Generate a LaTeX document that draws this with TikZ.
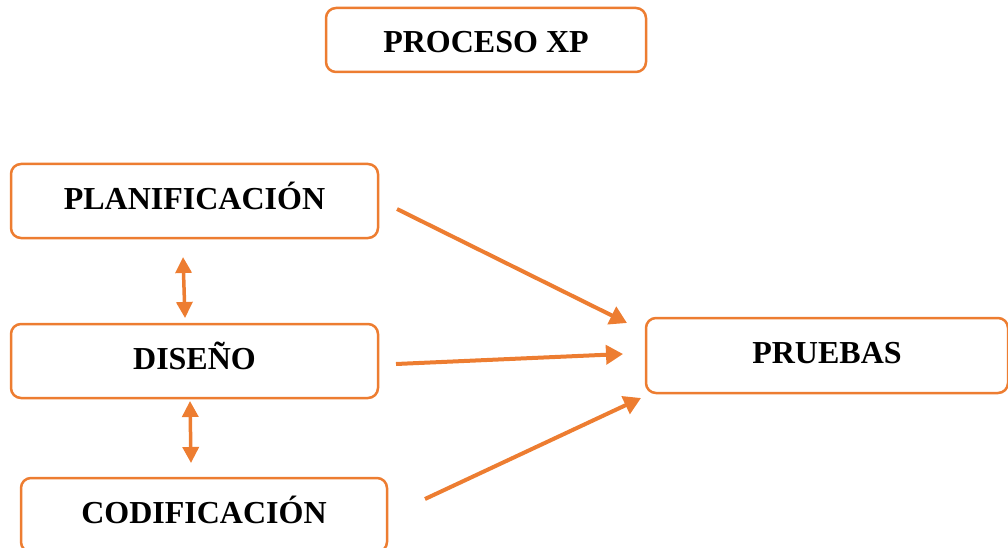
\documentclass[tikz,border=0pt]{standalone}
\usepackage{fontspec}
\setmainfont{Liberation Serif}
\usetikzlibrary{arrows.meta}
\definecolor{xporange}{HTML}{ED7D31}
\begin{document}
\begin{tikzpicture}[x=1pt,y=-1pt,
  box/.style={draw=xporange,line width=2.5pt,rounded corners=10pt,fill=white,
    inner sep=0pt,text height=16pt,text depth=0pt,
    font=\fontsize{32}{36}\selectfont\bfseries},
  link/.style={draw=xporange,line width=4pt,-{Triangle[length=17pt,width=19pt]}},
  both/.style={draw=xporange,line width=3.5pt,
    {Triangle[length=16pt,width=16pt]}-{Triangle[length=16pt,width=16pt]}}]
\useasboundingbox (0,0) rectangle (1008,548);
\clip (0,0) rectangle (1008,548);
\node[box,minimum width=320pt,minimum height=64pt,text height=25pt] (xp) at (486,40) {PROCESO XP};
\node[box,minimum width=367pt,minimum height=74pt] (plan) at (194.5,201) {PLANIFICACIÓN};
\node[box,minimum width=367pt,minimum height=74pt] (dis) at (194.5,361) {DISEÑO};
\node[box,minimum width=366pt,minimum height=74pt] (cod) at (204,515) {CODIFICACIÓN};
\node[box,minimum width=362pt,minimum height=75pt] (pru) at (827,355.5) {PRUEBAS};
\coordinate (a1s) at (397,209);
\coordinate (a1e) at (627,323);
\coordinate (a2s) at (396,364);
\coordinate (a2e) at (623,354);
\coordinate (a3s) at (425,499);
\coordinate (a3e) at (641,398);
\coordinate (d1a) at (183,257);
\coordinate (d1b) at (185,318);
\coordinate (d2a) at (190,401);
\coordinate (d2b) at (191,463);
\draw[link] (a1s) -- (a1e);
\draw[link] (a2s) -- (a2e);
\draw[link] (a3s) -- (a3e);
\draw[both] (d1a) -- (d1b);
\draw[both] (d2a) -- (d2b);
\end{tikzpicture}
\end{document}
